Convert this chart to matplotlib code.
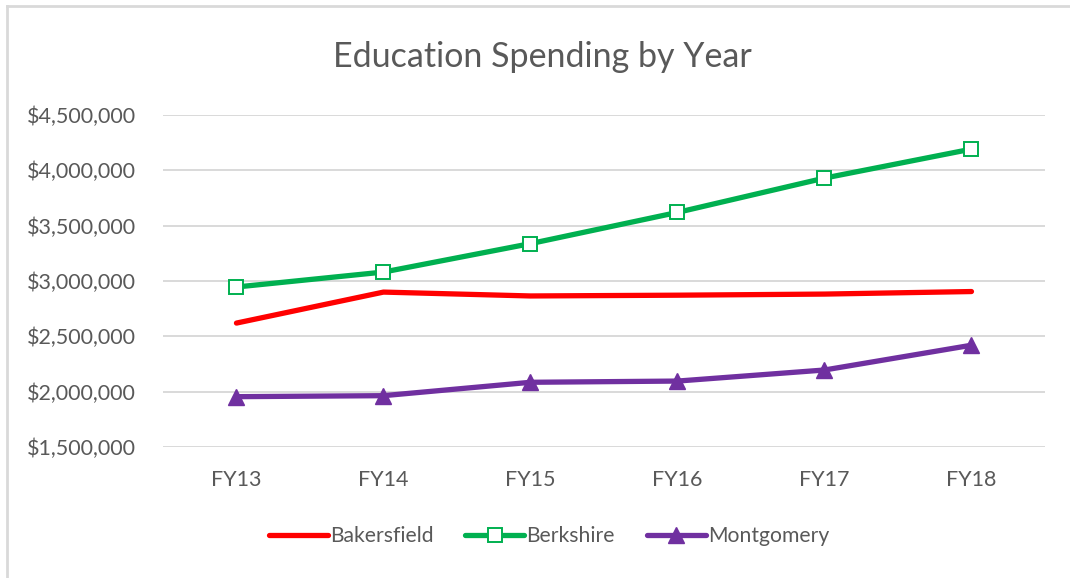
import matplotlib.pyplot as plt
from matplotlib.lines import Line2D
from matplotlib.ticker import FuncFormatter

# Chart data.
years = ["FY13", "FY14", "FY15", "FY16", "FY17", "FY18"]
bakersfield = [2620000, 2900000, 2865000, 2872000, 2882000, 2905000]
berkshire = [2946000, 3081000, 3338000, 3620000, 3930000, 4192000]
montgomery = [1955000, 1964000, 2085000, 2096000, 2196000, 2420000]

plt.rcParams["font.family"] = ["Lato", "DejaVu Sans"]
text_color = "#595959"
grid_color = "#d9d9d9"

fig = plt.figure(figsize=(10.7, 5.78), dpi=100)
ax = fig.add_axes([0.1523, 0.2266, 0.8243, 0.5744])

x = list(range(len(years)))

ax.plot(x, bakersfield, color="#ff0000", linewidth=3.8,
        solid_capstyle="round", solid_joinstyle="round", label="Bakersfield", zorder=3)
ax.plot(x, berkshire, color="#00b050", linewidth=3.8,
        solid_capstyle="round", solid_joinstyle="round",
        marker="s", markersize=10.5, markerfacecolor="white",
        markeredgecolor="#00b050", markeredgewidth=1.4,
        label="Berkshire", zorder=3)
ax.plot(x, montgomery, color="#7030a0", linewidth=3.8,
        solid_capstyle="round", solid_joinstyle="round",
        marker="^", markersize=11, markerfacecolor="#7030a0",
        markeredgecolor="#7030a0", label="Montgomery", zorder=3)

ax.set_xlim(-0.5, len(years) - 0.5)
ax.set_ylim(1500000, 4500000)
ax.set_yticks([1500000, 2000000, 2500000, 3000000, 3500000, 4000000, 4500000])
ax.yaxis.set_major_formatter(FuncFormatter(lambda v, p: "${:,.0f}".format(v)))
ax.set_xticks(x)
ax.set_xticklabels(years)

ax.grid(axis="y", color=grid_color, linewidth=1.4, zorder=0)
for side in ["top", "right", "left", "bottom"]:
    ax.spines[side].set_visible(False)
ax.tick_params(axis="both", length=0, labelsize=15.5, colors=text_color)
ax.tick_params(axis="y", pad=19.5)
ax.tick_params(axis="x", pad=16.5)

fig.text(0.5065, 0.902, "Education Spending by Year", ha="center", va="center",
         fontsize=24.5, color=text_color)

legend = fig.legend(loc="center", bbox_to_anchor=(0.513, 0.072), ncol=3,
                    frameon=False, fontsize=15.2, handlelength=2.8,
                    handletextpad=0.1, columnspacing=1.5)
for t in legend.get_texts():
    t.set_color(text_color)

# Light border of the chart area (left and top visible in the reference).
fig.add_artist(Line2D([0.0068, 0.0068], [0, 0.99], transform=fig.transFigure,
                      color=grid_color, linewidth=2))
fig.add_artist(Line2D([0.0068, 1.0], [0.99, 0.99], transform=fig.transFigure,
                      color=grid_color, linewidth=2))

fig.savefig("out.png", dpi=100)
